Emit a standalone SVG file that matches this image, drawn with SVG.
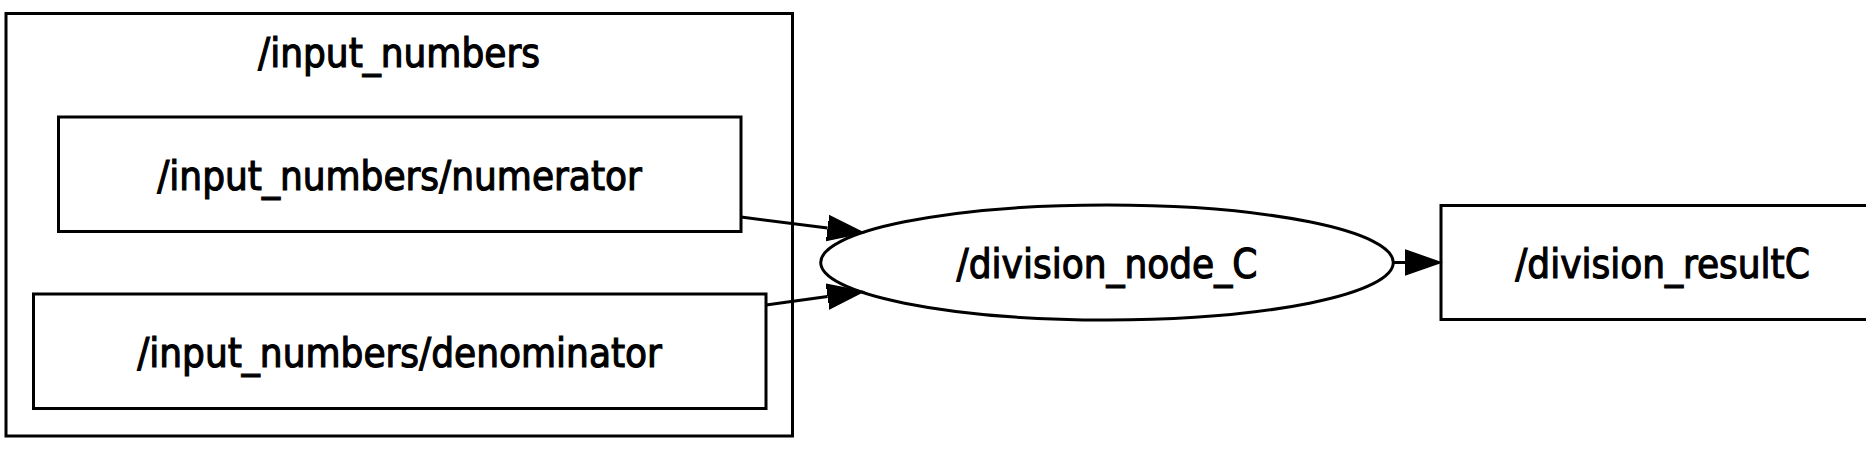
<svg xmlns="http://www.w3.org/2000/svg" width="1866" height="463" viewBox="0 0 1866 463">
<style>
.shape{fill:none;stroke:#000;stroke-width:3}
.lbl{font-family:"DejaVu Sans Condensed","DejaVu Sans",sans-serif;font-stretch:condensed;font-size:40px;fill:#000;stroke:#000;stroke-width:1.1;text-anchor:middle}
.edge{fill:none;stroke:#000;stroke-width:3}
</style>
<defs>
<marker id="arrow" markerUnits="userSpaceOnUse" markerWidth="38" markerHeight="28" refX="0" refY="13" orient="auto" viewBox="0 0 38 26">
<path d="M0,0.5 L36,13 L0,25.5 Z" fill="#000" stroke="#000" stroke-width="1.5"/>
</marker>
</defs>
<rect x="0" y="0" width="1866" height="463" fill="#fff"/>
<g id="cluster_input_numbers">
<rect class="shape" x="6" y="13.5" width="786.5" height="422.5"/>
<text class="lbl" x="399" y="67">/input_numbers</text>
</g>
<g id="node_numerator">
<rect class="shape" x="58.5" y="117" width="682.5" height="114.5"/>
<text class="lbl" x="399.5" y="189.5">/input_numbers/numerator</text>
</g>
<g id="node_denominator">
<rect class="shape" x="33.5" y="294" width="732.5" height="114.5"/>
<text class="lbl" x="399.5" y="366.5">/input_numbers/denominator</text>
</g>
<g id="node_division_node_C">
<ellipse class="shape" cx="1107" cy="262.5" rx="286.3" ry="57.5"/>
<text class="lbl" x="1107" y="277.5">/division_node_C</text>
</g>
<g id="node_division_resultC">
<rect class="shape" x="1441" y="205.5" width="443" height="114"/>
<text class="lbl" x="1662.5" y="277.5">/division_resultC</text>
</g>
<g id="connectors">
<line class="edge" x1="741" y1="217" x2="827.6" y2="228.1" marker-end="url(#arrow)"/>
<line class="edge" x1="766" y1="305" x2="827.6" y2="296.5" marker-end="url(#arrow)"/>
<line class="edge" x1="1393.3" y1="262.5" x2="1405" y2="262.5" marker-end="url(#arrow)"/>
</g>
</svg>
